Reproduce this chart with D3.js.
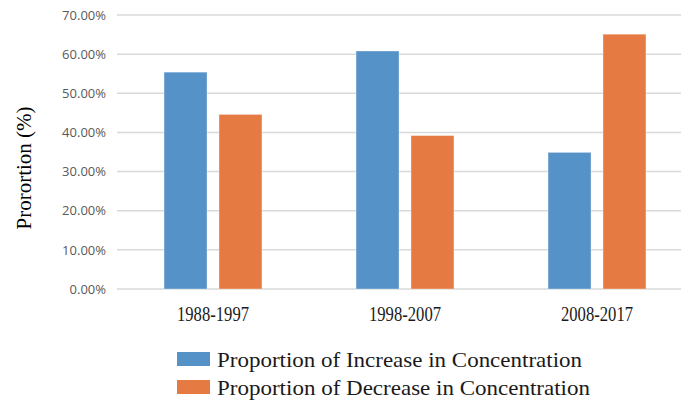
<!DOCTYPE html>
<html>
<head>
<meta charset="utf-8">
<script src="https://cdn.jsdelivr.net/npm/d3@7"></script>
<style>
  html, body { margin: 0; padding: 0; background: #fff; }
  svg { display: block; }
</style>
</head>
<body>
<svg id="chart" width="681" height="409"></svg>
<script>
// Share of sites with rising vs falling concentration, per decade
const periods = ["1988-1997", "1998-2007", "2008-2017"];
const seriesNames = ["Proportion of Increase in Concentration", "Proportion of Decrease in Concentration"];
const increaseValues = [55.4, 60.8, 34.9];
const decreaseValues = [44.6, 39.2, 65.1];
const yTicks = [0, 10, 20, 30, 40, 50, 60, 70];
const seriesColors = ["#5592c7", "#e57b42"];

const rows = periods.map((p, i) => ({ period: p, values: [increaseValues[i], decreaseValues[i]] }));

const svg = d3.select("#chart");
const W = 681;
const plot = { left: 117, right: 693, top: 15, bottom: 289 };

const y = d3.scaleLinear().domain([0, 70]).range([plot.bottom, plot.top]);
const x0 = d3.scaleBand().domain(periods).range([plot.left, plot.right])
  .paddingInner(0.49).paddingOuter(0.245);
const x1 = d3.scaleBand().domain([0, 1]).range([0, x0.bandwidth()])
  .paddingInner(0.218).paddingOuter(0);

// horizontal gridlines
svg.append("g")
  .selectAll("line")
  .data(yTicks)
  .join("line")
  .attr("x1", plot.left).attr("x2", W)
  .attr("y1", d => y(d)).attr("y2", d => y(d))
  .attr("stroke", "#d9d9d9").attr("stroke-width", 1.5);

// y tick labels
const fmt = d3.format(".2f");
svg.append("g")
  .selectAll("text")
  .data(yTicks)
  .join("text")
  .attr("x", 106).attr("y", d => y(d))
  .attr("dy", "0.36em")
  .attr("text-anchor", "end")
  .attr("font-family", "'Open Sans', 'Liberation Sans', Arial, sans-serif")
  .attr("font-size", 13)
  .attr("fill", "#595959")
  .text(d => fmt(d) + "%");

// bars
const groups = svg.append("g")
  .selectAll("g")
  .data(rows)
  .join("g")
  .attr("transform", d => `translate(${x0(d.period)},0)`);

groups.selectAll("rect")
  .data(d => d.values.map((v, k) => ({ k, v })))
  .join("rect")
  .attr("x", d => x1(d.k))
  .attr("width", x1.bandwidth())
  .attr("y", d => y(d.v))
  .attr("height", d => y(0) - y(d.v))
  .attr("fill", d => seriesColors[d.k])
  .attr("stroke", "#ffffff").attr("stroke-opacity", 0.35).attr("stroke-width", 1);

// category labels
svg.append("g")
  .selectAll("text")
  .data(periods)
  .join("text")
  .attr("x", d => x0(d) + x0.bandwidth() / 2)
  .attr("y", 321)
  .attr("text-anchor", "middle")
  .attr("font-family", "'Liberation Serif', 'Times New Roman', serif")
  .attr("font-size", 20)
  .attr("fill", "#1a1a1a")
  .attr("textLength", 72).attr("lengthAdjust", "spacingAndGlyphs")
  .text(d => d);

// y axis title
svg.append("text")
  .attr("transform", "translate(31,168) rotate(-90)")
  .attr("text-anchor", "middle")
  .attr("font-family", "'Liberation Serif', 'Times New Roman', serif")
  .attr("font-size", 21)
  .attr("fill", "#000")
  .text("Prorortion (%)");

// legend
const legend = svg.append("g")
  .selectAll("g")
  .data(seriesNames)
  .join("g")
  .attr("transform", (d, i) => `translate(177,${352 + i * 28})`);

legend.append("rect")
  .attr("width", 33).attr("height", 14)
  .attr("fill", (d, i) => seriesColors[i]);

legend.append("text")
  .attr("x", 40).attr("y", 14.5)
  .attr("font-family", "'Liberation Serif', 'Times New Roman', serif")
  .attr("font-size", 21)
  .attr("fill", "#1a1a1a")
  .attr("textLength", (d, i) => i === 0 ? 365 : 373)
  .attr("lengthAdjust", "spacingAndGlyphs")
  .text(d => d);
</script>
</body>
</html>
